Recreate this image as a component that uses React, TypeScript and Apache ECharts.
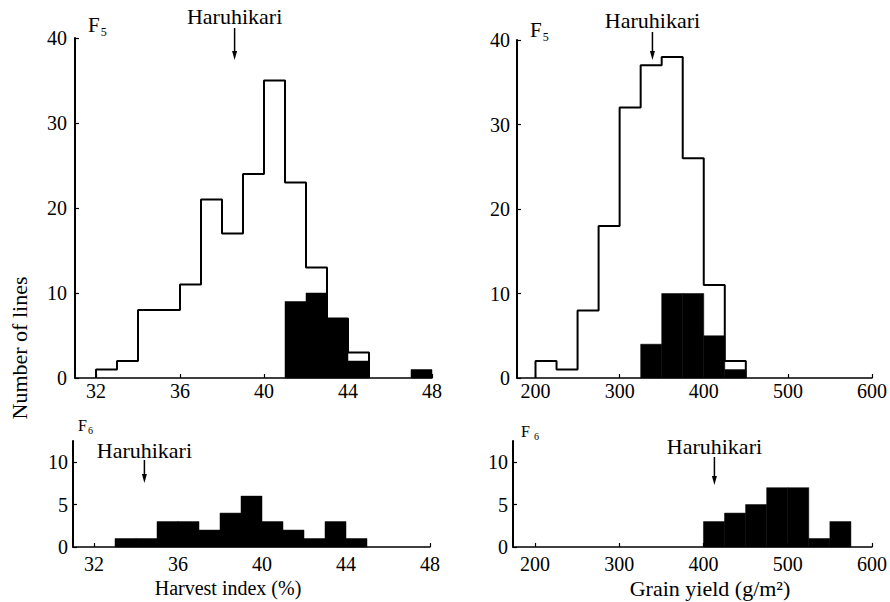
import React, { useEffect, useRef } from 'react';
import * as echarts from 'echarts';

const FONT = 'Liberation Serif';

// ---- Harvest index (%), F5 ----
const hiBinStartsF5 = [32, 33, 34, 35, 36, 37, 38, 39, 40, 41, 42, 43, 44];
const hiCountsF5 = [1, 2, 8, 8, 11, 21, 17, 24, 35, 23, 13, 7, 3];
const hiSelStartsF5 = [41, 42, 43, 44, 47];
const hiSelCountsF5 = [9, 10, 7, 2, 1];
const hiBinWidth = 1;

// ---- Grain yield (g/m2), F5 ----
const gyBinStartsF5 = [200, 225, 250, 275, 300, 325, 350, 375, 400, 425];
const gyCountsF5 = [2, 1, 8, 18, 32, 37, 38, 26, 11, 2];
const gySelStartsF5 = [325, 350, 375, 400, 425];
const gySelCountsF5 = [4, 10, 10, 5, 1];
const gyBinWidth = 25;

// ---- F6 ----
const hiBinStartsF6 = [33, 34, 35, 36, 37, 38, 39, 40, 41, 42, 43, 44];
const hiCountsF6 = [1, 1, 3, 3, 2, 4, 6, 3, 2, 1, 3, 1];
const gyBinStartsF6 = [400, 425, 450, 475, 500, 525, 550];
const gyCountsF6 = [3, 4, 5, 7, 7, 1, 3];

// ---- ticks ----
const hiTicks = [32, 36, 40, 44, 48];
const gyTicks = [200, 300, 400, 500, 600];
const countTicksF5 = [0, 10, 20, 30, 40];
const countTicksF6 = [0, 5, 10];

// ---- Haruhikari (check variety) positions ----
const haruhikariHIF5 = 38.6;
const haruhikariGYF5 = 339;
const haruhikariHIF6 = 34.4;
const haruhikariGYF6 = 413;

function outline(starts: number[], counts: number[], w: number) {
  const pts: number[][] = [[starts[0], 0]];
  starts.forEach((s, i) => pts.push([s, counts[i]]));
  pts.push([starts[starts.length - 1] + w, 0]);
  return pts;
}

function lineSeries(idx: number, starts: number[], counts: number[], w: number) {
  return {
    type: 'line',
    xAxisIndex: idx,
    yAxisIndex: idx,
    data: outline(starts, counts, w),
    step: 'end',
    showSymbol: false,
    symbol: 'none',
    lineStyle: { color: '#000', width: 2 },
    z: 2,
  };
}

function barsSeries(idx: number, starts: number[], counts: number[], w: number) {
  return {
    type: 'custom',
    xAxisIndex: idx,
    yAxisIndex: idx,
    data: starts.map((s, i) => [s, counts[i]]),
    encode: { x: 0, y: 1 },
    z: 3,
    renderItem: (_p: any, api: any) => {
      const s = api.value(0);
      const v = api.value(1);
      const a = api.coord([s, v]);
      const b = api.coord([s + w, 0]);
      return {
        type: 'rect',
        shape: { x: a[0], y: a[1], width: b[0] - a[0], height: b[1] - a[1] },
        style: { fill: '#000', stroke: '#000', lineWidth: 0.5 },
      };
    },
  };
}

function markerSeries(idx: number, x: number, yTop: number, textDy: number, a0: number, a1: number) {
  return {
    type: 'custom',
    xAxisIndex: idx,
    yAxisIndex: idx,
    data: [[x, yTop]],
    encode: { x: 0, y: 1 },
    clip: false,
    silent: true,
    z: 5,
    renderItem: (_p: any, api: any) => {
      const c = api.coord([api.value(0), api.value(1)]);
      const px = c[0];
      const py = c[1];
      return {
        type: 'group',
        children: [
          {
            type: 'text',
            x: px,
            y: py + textDy,
            style: {
              text: 'Haruhikari',
              align: 'center',
              verticalAlign: 'middle',
              fontSize: 22,
              fontFamily: FONT,
              fill: '#000',
            },
          },
          {
            type: 'line',
            shape: { x1: px, y1: py + a0, x2: px, y2: py + a1 - 6 },
            style: { stroke: '#000', lineWidth: 1.5 },
          },
          {
            type: 'polygon',
            shape: { points: [[px - 2.5, py + a1 - 9], [px + 2.5, py + a1 - 9], [px, py + a1]] },
            style: { fill: '#000' },
          },
        ],
      };
    },
  };
}

function xAxis(idx: number, min: number, max: number, ticks: number[], margin: number) {
  return {
    type: 'value',
    gridIndex: idx,
    min,
    max,
    axisLine: { show: true, onZero: false, lineStyle: { color: '#000', width: 1.5 } },
    axisTick: { show: true, inside: true, length: 4, customValues: ticks, lineStyle: { color: '#000', width: 1.2 } },
    axisLabel: { customValues: ticks, margin, color: '#000', fontSize: 20, fontFamily: FONT },
    splitLine: { show: false },
  };
}

function yAxis(idx: number, max: number, ticks: number[], margin: number) {
  return {
    type: 'value',
    gridIndex: idx,
    min: 0,
    max,
    axisLine: { show: true, onZero: false, lineStyle: { color: '#000', width: 2 } },
    axisTick: { show: true, inside: true, length: 4, customValues: ticks, lineStyle: { color: '#000', width: 1.2 } },
    axisLabel: { customValues: ticks, margin, color: '#000', fontSize: 20, fontFamily: FONT },
    splitLine: { show: false },
  };
}

function fLabel(x: number, y: number, gen: string, big: number, small: number, gap: string) {
  return {
    type: 'text',
    x,
    y,
    style: {
      text: `{f|F}${gap}{s|${gen}}`,
      align: 'left',
      verticalAlign: 'middle',
      fontFamily: FONT,
      fill: '#000',
      rich: {
        f: { fontSize: big, fontFamily: FONT, fill: '#000', verticalAlign: 'bottom' },
        s: { fontSize: small, fontFamily: FONT, fill: '#000', verticalAlign: 'bottom', padding: [0, 0, -2, 1] },
      },
    },
  };
}

export default function App() {
  const ref = useRef<HTMLDivElement>(null);

  useEffect(() => {
    if (!ref.current) return;
    const chart = echarts.init(ref.current, undefined, { renderer: 'svg' });
    const option: any = {
      animation: false,
      backgroundColor: '#fff',
      textStyle: { fontFamily: FONT },
      grid: [
        { left: 75, top: 38, width: 357, height: 340 },
        { left: 517, top: 40, width: 356, height: 338 },
        { left: 73, top: 441, width: 357, height: 106 },
        { left: 513, top: 441, width: 360, height: 106 },
      ],
      xAxis: [
        xAxis(0, 31, 48, hiTicks, 3),
        xAxis(1, 178, 600, gyTicks, 3),
        xAxis(2, 31, 48, hiTicks, 7),
        xAxis(3, 174, 600, gyTicks, 7),
      ],
      yAxis: [
        yAxis(0, 40, countTicksF5, 8),
        yAxis(1, 40, countTicksF5, 7),
        yAxis(2, 12.5, countTicksF6, 5),
        yAxis(3, 12.5, countTicksF6, 5),
      ],
      series: [
        lineSeries(0, hiBinStartsF5, hiCountsF5, hiBinWidth),
        barsSeries(0, hiSelStartsF5, hiSelCountsF5, hiBinWidth),
        lineSeries(1, gyBinStartsF5, gyCountsF5, gyBinWidth),
        barsSeries(1, gySelStartsF5, gySelCountsF5, gyBinWidth),
        barsSeries(2, hiBinStartsF6, hiCountsF6, hiBinWidth),
        barsSeries(3, gyBinStartsF6, gyCountsF6, gyBinWidth),
        markerSeries(0, haruhikariHIF5, 40, -22, -10, 22),
        markerSeries(1, haruhikariGYF5, 40, -20, -8, 20),
        markerSeries(2, haruhikariHIF6, 12.5, 9, 19, 42),
        markerSeries(3, haruhikariGYF6, 12.5, 5, 16, 44),
      ],
      graphic: [
        {
          type: 'text',
          x: 19,
          y: 348,
          rotation: Math.PI / 2,
          style: {
            text: 'Number of lines',
            align: 'center',
            verticalAlign: 'middle',
            fontSize: 22,
            fontFamily: FONT,
            fill: '#000',
          },
        },
        {
          type: 'text',
          x: 228,
          y: 588,
          style: {
            text: 'Harvest index (%)',
            align: 'center',
            verticalAlign: 'middle',
            fontSize: 20,
            fontFamily: FONT,
            fill: '#000',
          },
        },
        {
          type: 'text',
          x: 710,
          y: 588,
          style: {
            text: 'Grain yield (g/m²)',
            align: 'center',
            verticalAlign: 'middle',
            fontSize: 22,
            fontFamily: FONT,
            fill: '#000',
          },
        },
        fLabel(88, 25, '5', 21, 12, ''),
        fLabel(530, 30, '5', 21, 12, ''),
        fLabel(78, 425, '6', 16, 10, ''),
        fLabel(521, 431, '6', 16, 10, ' '),
      ],
    };
    chart.setOption(option);
    return () => chart.dispose();
  }, []);

  return (
    <div
      ref={ref}
      style={{ position: 'fixed', left: 0, top: 0, width: 890, height: 602, background: '#fff' }}
    />
  );
}
